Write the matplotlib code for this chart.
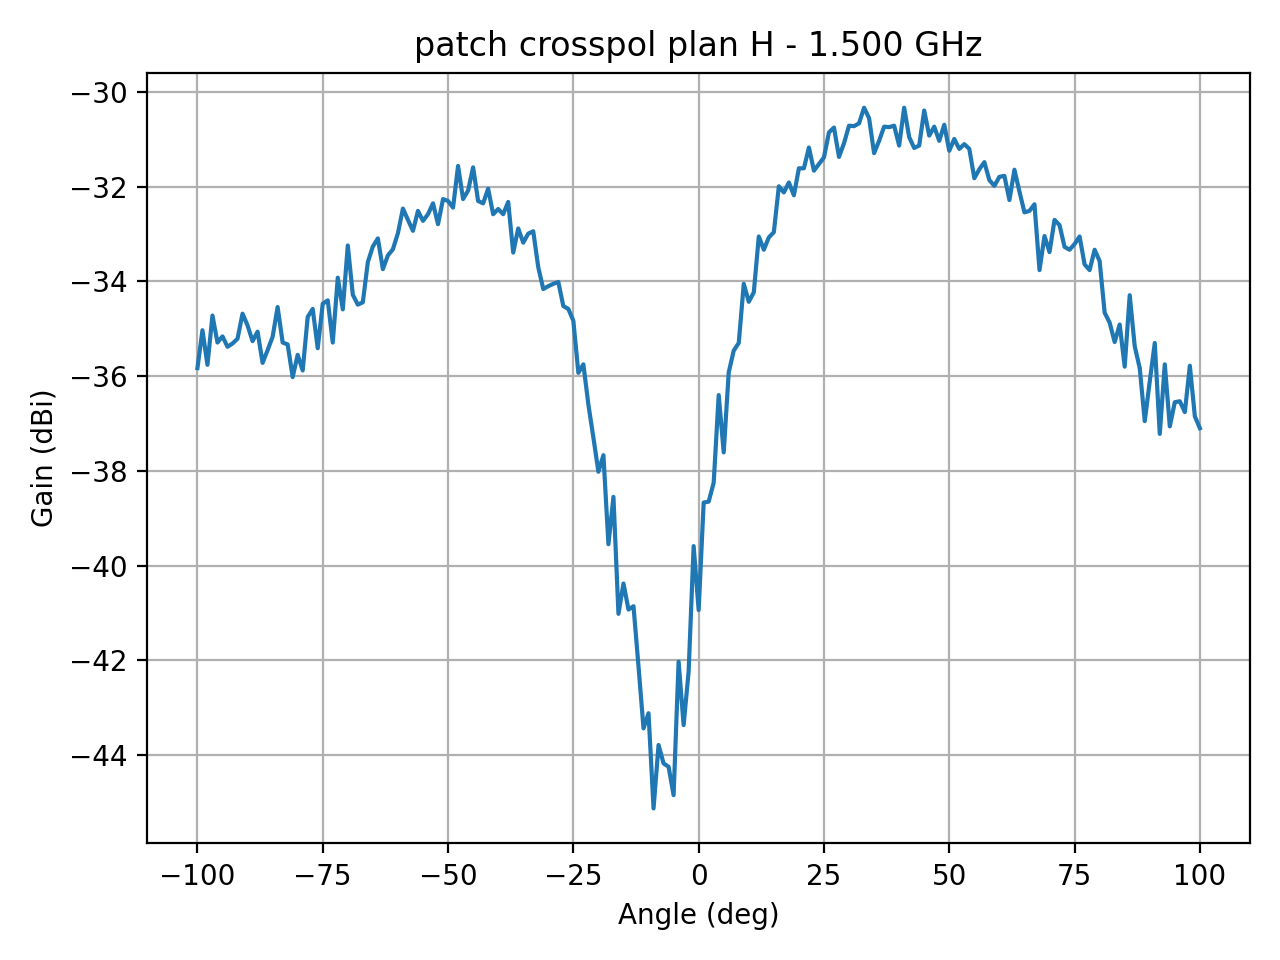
import numpy as np
import matplotlib.pyplot as plt

# Measured crosspol gain, plan H, 1.5 GHz (1 degree steps)
angle_deg = np.arange(-100, 101)
gain_dbi = [
    -35.83, -35.03, -35.76, -34.72, -35.29, -35.16, -35.38, -35.31, -35.21, -34.68,
    -34.93, -35.26, -35.06, -35.72, -35.45, -35.17, -34.54, -35.29, -35.33, -36.02,
    -35.55, -35.88, -34.75, -34.58, -35.41, -34.47, -34.40, -35.29, -33.92, -34.59,
    -33.24, -34.28, -34.49, -34.44, -33.59, -33.26, -33.09, -33.74, -33.45, -33.32,
    -32.98, -32.46, -32.70, -32.93, -32.51, -32.72, -32.58, -32.35, -32.79, -32.26,
    -32.30, -32.44, -31.56, -32.26, -32.08, -31.59, -32.30, -32.35, -32.04, -32.58,
    -32.47, -32.58, -32.32, -33.39, -32.88, -33.18, -32.99, -32.94, -33.70, -34.16,
    -34.10, -34.05, -34.01, -34.52, -34.58, -34.83, -35.93, -35.75, -36.60, -37.30,
    -38.02, -37.67, -39.55, -38.55, -41.02, -40.38, -40.93, -40.86, -42.13, -43.44,
    -43.12, -45.13, -43.79, -44.18, -44.25, -44.85, -42.03, -43.37, -42.24, -39.59,
    -40.94, -38.67, -38.65, -38.25, -36.40, -37.61, -35.92, -35.46, -35.30, -34.05,
    -34.43, -34.23, -33.05, -33.33, -33.07, -32.96, -31.99, -32.12, -31.91, -32.18,
    -31.61, -31.61, -31.17, -31.66, -31.52, -31.38, -30.85, -30.75, -31.37, -31.08,
    -30.71, -30.72, -30.66, -30.33, -30.55, -31.29, -31.03, -30.73, -30.74, -30.71,
    -31.13, -30.33, -30.95, -31.18, -31.13, -30.39, -30.92, -30.73, -31.03, -30.69,
    -31.24, -30.99, -31.20, -31.10, -31.20, -31.82, -31.63, -31.48, -31.86, -31.98,
    -31.79, -31.77, -32.28, -31.64, -32.10, -32.54, -32.51, -32.37, -33.76, -33.04,
    -33.38, -32.70, -32.81, -33.27, -33.33, -33.21, -33.05, -33.64, -33.76, -33.33,
    -33.57, -34.66, -34.87, -35.28, -34.91, -35.80, -34.29, -35.37, -35.83, -36.95,
    -36.11, -35.30, -37.22, -35.75, -37.06, -36.55, -36.53, -36.76, -35.78, -36.85,
    -37.10,
]

fig, ax = plt.subplots(figsize=(6.4, 4.8), dpi=200)
ax.plot(angle_deg, gain_dbi)
ax.set_title("patch crosspol plan H - 1.500 GHz")
ax.set_xlabel("Angle (deg)")
ax.set_ylabel("Gain (dBi)")
ax.grid(True)

plt.tight_layout()
plt.savefig("out.png")
